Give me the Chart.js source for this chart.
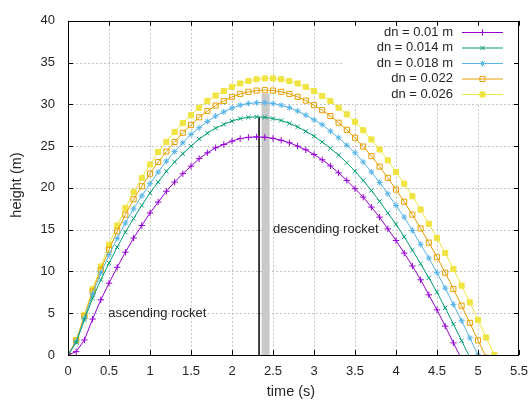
<!DOCTYPE html>
<html>
<head>
<meta charset="utf-8">
<style>
  html, body { margin: 0; padding: 0; background: #fff; }
  #wrap { width: 528px; height: 403px; }
</style>
<script src="https://cdn.jsdelivr.net/npm/chart.js@4.4.1/dist/chart.umd.min.js"></script>
</head>
<body>
<div id="wrap"><canvas id="c" width="528" height="403"></canvas></div>
<script>
// Sample times (s), one every 0.1 s
const times = [0, 0.1, 0.2, 0.3, 0.4, 0.5, 0.6, 0.7, 0.8, 0.9,
  1.0, 1.1, 1.2, 1.3, 1.4, 1.5, 1.6, 1.7, 1.8, 1.9,
  2.0, 2.1, 2.2, 2.3, 2.4, 2.5, 2.6, 2.7, 2.8, 2.9,
  3.0, 3.1, 3.2, 3.3, 3.4, 3.5, 3.6, 3.7, 3.8, 3.9,
  4.0, 4.1, 4.2, 4.3, 4.4, 4.5, 4.6, 4.7, 4.8, 4.9,
  5.0, 5.1, 5.2];

// Rocket height (m) for each nozzle diameter dn
const heightDn010 = [0, 0.4, 1.8, 4.3, 6.6, 8.6, 10.5, 12.3, 14.0, 15.5,
  17.0, 18.3, 19.6, 20.7, 21.7, 22.6, 23.5, 24.2, 24.8, 25.2,
  25.6, 25.9, 26.05, 26.1, 26.06, 25.93, 25.7, 25.4, 25.0, 24.56,
  24.0, 23.36, 22.63, 21.8, 20.9, 19.9, 18.9, 17.7, 16.5, 15.1,
  13.7, 12.2, 10.65, 9.0, 7.2, 5.4, 3.46, 1.45, -0.5];

const heightDn014 = [0, 1.5, 4.2, 6.8, 9.0, 11.0, 12.9, 14.7, 16.35, 17.9,
  19.4, 20.7, 22.0, 23.1, 24.1, 25.0, 25.85, 26.55, 27.15, 27.6,
  28.0, 28.3, 28.45, 28.5, 28.45, 28.3, 28.07, 27.73, 27.3, 26.77,
  26.19, 25.5, 24.74, 23.93, 23.01, 22.0, 20.89, 19.69, 18.39, 17.0,
  15.64, 14.15, 12.56, 10.93, 9.24, 7.5, 5.65, 3.7, 1.72, -0.3];

const heightDn018 = [0, 1.6, 4.4, 7.3, 9.8, 12.0, 13.95, 15.8, 17.5, 19.05,
  20.5, 21.9, 23.2, 24.35, 25.4, 26.4, 27.2, 27.95, 28.6, 29.1,
  29.55, 29.9, 30.1, 30.2, 30.2, 30.1, 29.9, 29.6, 29.2, 28.7,
  28.15, 27.57, 26.8, 26.0, 25.1, 24.2, 23.1, 21.9, 20.65, 19.3,
  17.9, 16.5, 14.9, 13.25, 11.6, 9.85, 8.0, 6.05, 4.1, 2.05,
  0];

const heightDn022 = [0, 1.7, 4.6, 7.6, 10.2, 12.6, 14.8, 16.8, 18.65, 20.2,
  21.7, 23.1, 24.35, 25.5, 26.6, 27.55, 28.45, 29.2, 29.85, 30.4,
  30.9, 31.25, 31.5, 31.65, 31.7, 31.65, 31.5, 31.25, 30.9, 30.45,
  29.9, 29.3, 28.6, 27.8, 26.95, 26.0, 24.95, 23.8, 22.55, 21.2,
  19.8, 18.35, 16.8, 15.15, 13.45, 11.7, 9.85, 7.9, 5.9, 3.85,
  1.75, -0.3];

const heightDn026 = [0, 1.8, 4.8, 7.9, 10.6, 13.2, 15.5, 17.6, 19.5, 21.2,
  22.8, 24.3, 25.5, 26.7, 27.75, 28.7, 29.6, 30.4, 31.05, 31.6,
  32.1, 32.5, 32.8, 33.0, 33.1, 33.1, 33.0, 32.8, 32.5, 32.1,
  31.6, 31.0, 30.4, 29.6, 28.8, 27.9, 26.9, 25.8, 24.6, 23.3,
  21.9, 20.5, 19.0, 17.4, 15.7, 14.0, 12.2, 10.3, 8.3, 6.3,
  4.2, 2.1, 0];

const seriesLabels = ['dn = 0.01 m', 'dn = 0.014 m', 'dn = 0.018 m', 'dn = 0.022', 'dn = 0.026'];
const seriesHeights = [heightDn010, heightDn014, heightDn018, heightDn022, heightDn026];

// Axis ticks
const xTickValues = [0, 0.5, 1, 1.5, 2, 2.5, 3, 3.5, 4, 4.5, 5, 5.5];
const yTickValues = [0, 5, 10, 15, 20, 25, 30, 35, 40];

// Apex markers: black line and grey band
const apexLine = { t: 2.33, top: 28.5 };
const apexBand = { t: 2.41, top: 31.3 };

// Text notes placed in data coordinates
const notes = [
  { text: 'ascending rocket', t: 0.49, h: 5.0 },
  { text: 'descending rocket', t: 2.5, h: 15.0 }
];

const FONT = '"Liberation Sans", Arial, Helvetica, sans-serif';
const TEXT_COLOR = '#262626';

const seriesStyles = [
  { color: '#9400d3', pointStyle: 'cross',    radius: 3.2, fill: 'rgba(0,0,0,0)' },
  { color: '#009e73', pointStyle: 'crossRot', radius: 3.0, fill: 'rgba(0,0,0,0)' },
  { color: '#56b4e9', pointStyle: 'star',     radius: 3.0, fill: 'rgba(0,0,0,0)' },
  { color: '#e69f00', pointStyle: 'rect',     radius: 3.6, fill: 'rgba(0,0,0,0)' },
  { color: '#f0e442', pointStyle: 'rect',     radius: 3.6, fill: '#f0e442' }
];

const datasets = seriesHeights.map((vals, i) => ({
  label: seriesLabels[i],
  data: vals.map((h, k) => ({ x: times[k], y: h })),
  borderColor: seriesStyles[i].color,
  borderWidth: 1,
  pointStyle: seriesStyles[i].pointStyle,
  pointRadius: seriesStyles[i].radius,
  pointBorderColor: seriesStyles[i].color,
  pointBackgroundColor: seriesStyles[i].fill,
  pointBorderWidth: 1,
  tension: 0,
  fill: false,
  order: i
}));

datasets.push({
  label: 'apex band',
  data: [{ x: apexBand.t, y: 0 }, { x: apexBand.t, y: apexBand.top }],
  borderColor: '#c9c9c9',
  borderWidth: 8,
  borderCapStyle: 'butt',
  pointRadius: 0,
  order: 20
});
datasets.push({
  label: 'apex line',
  data: [{ x: apexLine.t, y: 0 }, { x: apexLine.t, y: apexLine.top }],
  borderColor: '#000',
  borderWidth: 1.5,
  borderCapStyle: 'butt',
  pointRadius: 0,
  order: 10
});

// Dotted grid drawn under the curves
const gridPlugin = {
  id: 'dottedGrid',
  beforeDatasetsDraw(chart) {
    const { ctx, chartArea: a, scales: { x, y } } = chart;
    ctx.save();
    ctx.strokeStyle = '#c4c4c4';
    ctx.lineWidth = 1;
    ctx.setLineDash([2, 2]);
    xTickValues.forEach(v => {
      if (v <= 0 || v >= 5.5) return;
      const px = Math.round(x.getPixelForValue(v)) + 0.5;
      ctx.beginPath(); ctx.moveTo(px, a.top); ctx.lineTo(px, a.bottom); ctx.stroke();
    });
    yTickValues.forEach(v => {
      if (v <= 0 || v >= 40) return;
      const py = Math.round(y.getPixelForValue(v)) + 0.5;
      ctx.beginPath(); ctx.moveTo(a.left, py); ctx.lineTo(a.right, py); ctx.stroke();
    });
    ctx.restore();
  }
};

// Key box, frame, inward ticks, axis titles and notes
const decorPlugin = {
  id: 'decor',
  afterDatasetsDraw(chart) {
    const { ctx, chartArea: a, scales: { x, y } } = chart;
    ctx.save();

    // key
    ctx.fillStyle = '#fff';
    ctx.fillRect(343, 21, 172, 82);
    const rows = [32, 47.5, 63, 78.5, 94];
    ctx.font = '13px ' + FONT;
    ctx.textAlign = 'right';
    ctx.textBaseline = 'middle';
    seriesLabels.forEach((lab, i) => {
      const ry = rows[i];
      const st = seriesStyles[i];
      ctx.fillStyle = TEXT_COLOR;
      ctx.fillText(lab, 453, ry);
      ctx.strokeStyle = st.color;
      ctx.lineWidth = 1;
      ctx.setLineDash([]);
      ctx.beginPath(); ctx.moveTo(462, ry + 0.5); ctx.lineTo(503, ry + 0.5); ctx.stroke();
      ctx.fillStyle = st.fill;
      Chart.helpers.drawPoint(ctx, { pointStyle: st.pointStyle, radius: st.radius, rotation: 0, borderWidth: 1 }, 482.5, ry + 0.5);
    });

    // frame
    ctx.strokeStyle = '#000';
    ctx.lineWidth = 1;
    ctx.strokeRect(Math.round(a.left) + 0.5, Math.round(a.top) + 0.5,
      Math.round(a.right - a.left) - 1, Math.round(a.bottom - a.top));

    // inward tick marks on all four sides
    const tl = 5;
    ctx.beginPath();
    xTickValues.forEach(v => {
      const px = Math.round(x.getPixelForValue(v)) + 0.5;
      ctx.moveTo(px, a.bottom); ctx.lineTo(px, a.bottom - tl);
      ctx.moveTo(px, a.top); ctx.lineTo(px, a.top + tl);
    });
    yTickValues.forEach(v => {
      const py = Math.round(y.getPixelForValue(v)) + 0.5;
      ctx.moveTo(a.left, py); ctx.lineTo(a.left + tl, py);
      ctx.moveTo(a.right, py); ctx.lineTo(a.right - tl, py);
    });
    ctx.stroke();

    // axis titles
    ctx.fillStyle = TEXT_COLOR;
    ctx.font = '14.5px ' + FONT;
    ctx.textAlign = 'center';
    ctx.textBaseline = 'middle';
    ctx.fillText('time (s)', 291, 392);
    ctx.save();
    ctx.translate(17, 185);
    ctx.rotate(-Math.PI / 2);
    ctx.fillText('height (m)', 0, 0);
    ctx.restore();

    // notes
    ctx.font = '13px ' + FONT;
    ctx.textAlign = 'left';
    notes.forEach(n => {
      ctx.fillText(n.text, x.getPixelForValue(n.t), y.getPixelForValue(n.h));
    });

    ctx.restore();
  }
};

new Chart(document.getElementById('c'), {
  type: 'line',
  data: { datasets },
  options: {
    responsive: false,
    devicePixelRatio: 1,
    animation: false,
    events: [],
    layout: { padding: { top: 18, right: 0, left: 0, bottom: 0 } },
    plugins: { legend: { display: false }, tooltip: { enabled: false } },
    scales: {
      x: {
        type: 'linear',
        min: 0, max: 5.5,
        afterBuildTicks: s => { s.ticks = xTickValues.map(v => ({ value: v })); },
        afterFit: s => { s.height = 48; s.paddingRight = 9; },
        grid: { display: false, drawTicks: false },
        border: { display: false },
        ticks: {
          padding: 9,
          color: TEXT_COLOR,
          font: { family: FONT, size: 13 },
          maxRotation: 0,
          autoSkip: false,
          callback: v => String(v)
        }
      },
      y: {
        type: 'linear',
        min: 0, max: 40,
        afterBuildTicks: s => { s.ticks = yTickValues.map(v => ({ value: v })); },
        afterFit: s => { s.width = 68; },
        grid: { display: false, drawTicks: false },
        border: { display: false },
        ticks: {
          padding: 13,
          color: TEXT_COLOR,
          font: { family: FONT, size: 13 },
          autoSkip: false,
          callback: v => String(v)
        }
      }
    }
  },
  plugins: [gridPlugin, decorPlugin]
});
</script>
</body>
</html>
